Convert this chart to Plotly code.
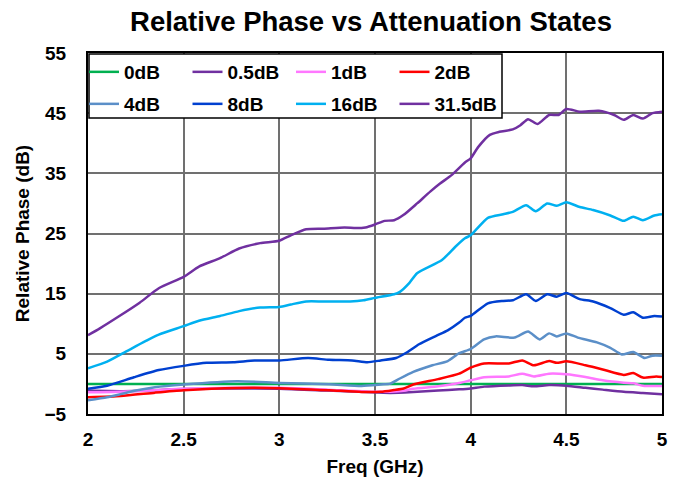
import plotly.graph_objects as go

# ---------------- data ----------------
f_0dB = [2.0, 2.5, 3.0, 3.5, 4.0, 4.5, 5.0]
v_0dB = [0, 0, 0, 0, 0, 0, 0]

f_05dB = [2.0, 2.17, 2.35, 2.5, 2.75, 3.0, 3.25, 3.45, 3.58, 3.7, 3.83, 3.94, 4.0,
          4.07, 4.2, 4.27, 4.33, 4.41, 4.5, 4.6, 4.69, 4.8, 4.9, 5.0]
v_05dB = [-1.1, -1.2, -1.05, -0.85, -0.75, -0.8, -1.1, -1.35, -1.5, -1.35, -1.1, -0.9, -0.75,
          -0.45, -0.25, -0.2, -0.4, -0.2, -0.3, -0.65, -0.95, -1.3, -1.5, -1.7]

f_1dB = [2.0, 2.17, 2.35, 2.5, 2.75, 3.0, 3.25, 3.45, 3.58, 3.65, 3.7, 3.83, 3.94, 4.0,
         4.07, 4.2, 4.27, 4.33, 4.41, 4.5, 4.6, 4.69, 4.8, 4.85, 4.9, 5.0]
v_1dB = [-1.4, -1.3, -1.05, -0.8, -0.65, -0.65, -0.95, -1.25, -1.3, -1.15, -0.8, -0.4, 0.15, 0.6,
         1.1, 1.25, 1.7, 1.25, 1.7, 1.6, 1.15, 0.6, 0.2, 0.1, -0.3, -0.35]

f_2dB = [2.0, 2.17, 2.35, 2.5, 2.78, 3.0, 3.26, 3.43, 3.53, 3.6, 3.65, 3.7, 3.83, 3.94, 4.0,
         4.07, 4.2, 4.27, 4.33, 4.41, 4.45, 4.5, 4.6, 4.69, 4.8, 4.85, 4.9, 4.97, 5.0]
v_2dB = [-2.2, -2.0, -1.45, -1.05, -0.67, -0.7, -1.05, -1.33, -1.3, -1.0, -0.75, -0.1, 0.8, 1.7, 2.7,
         3.4, 3.4, 3.9, 3.1, 3.8, 3.5, 3.75, 3.1, 2.4, 1.5, 1.8, 1.05, 1.25, 1.15]

f_4dB = [2.0, 2.1, 2.17, 2.25, 2.35, 2.5, 2.78, 3.0, 3.26, 3.43, 3.53, 3.58, 3.63, 3.7, 3.8,
         3.88, 3.94, 4.0, 4.07, 4.13, 4.23, 4.3, 4.36, 4.41, 4.45, 4.5, 4.56, 4.66, 4.73,
         4.79, 4.85, 4.91, 4.95, 5.0]
v_4dB = [-2.7, -2.2, -1.7, -1.1, -0.55, -0.1, 0.45, 0.17, -0.05, -0.33, -0.1, 0.05, 0.9, 2.0, 3.1,
         3.8, 5.1, 5.8, 7.4, 7.9, 7.7, 8.7, 7.4, 8.4, 7.9, 8.4, 7.7, 6.9, 6.0,
         4.9, 5.3, 4.3, 4.7, 4.7]

f_8dB = [2.0, 2.1, 2.24, 2.37, 2.5, 2.62, 2.76, 2.87, 3.0, 3.15, 3.26, 3.38, 3.46, 3.53, 3.61,
         3.67, 3.73, 3.82, 3.88, 3.94, 3.97, 4.0, 4.09, 4.17, 4.22, 4.29, 4.34, 4.4, 4.45,
         4.5, 4.57, 4.64, 4.73, 4.8, 4.85, 4.9, 4.96, 5.0]
v_8dB = [-0.8, -0.3, 1.1, 2.3, 3.0, 3.5, 3.6, 3.9, 3.9, 4.3, 4.0, 3.9, 3.6, 3.9, 4.3,
         5.3, 6.6, 8.0, 8.9, 10.2, 11.0, 11.3, 13.4, 13.8, 13.9, 14.9, 13.8, 14.9, 14.5,
         15.1, 14.1, 13.7, 12.6, 11.5, 11.9, 11.0, 11.3, 11.2]

f_16dB = [2.0, 2.1, 2.2, 2.3, 2.37, 2.5, 2.58, 2.69, 2.79, 2.9, 3.0, 3.06, 3.14, 3.23, 3.37,
          3.44, 3.5, 3.6, 3.63, 3.68, 3.72, 3.85, 3.92, 3.97, 4.0, 4.09, 4.17, 4.22, 4.29,
          4.34, 4.4, 4.45, 4.5, 4.57, 4.64, 4.73, 4.8, 4.85, 4.9, 4.96, 5.0]
v_16dB = [2.6, 3.7, 5.4, 7.1, 8.2, 9.6, 10.5, 11.3, 12.1, 12.7, 12.8, 13.2, 13.7, 13.7, 13.7,
          13.9, 14.3, 14.9, 15.3, 16.8, 18.4, 20.6, 22.8, 24.2, 24.7, 27.6, 28.2, 28.6, 29.7,
          28.7, 30.0, 29.6, 30.2, 29.4, 28.9, 28.0, 27.1, 27.8, 27.2, 28.0, 28.2]

f_315dB = [2.0, 2.06, 2.16, 2.27, 2.37, 2.5, 2.58, 2.69, 2.79, 2.9, 3.0, 3.06, 3.14, 3.23,
           3.34, 3.4, 3.45, 3.5, 3.55, 3.6, 3.65, 3.72, 3.79, 3.84, 3.9, 3.97, 4.0, 4.04,
           4.1, 4.15, 4.22, 4.26, 4.3, 4.35, 4.41, 4.46, 4.5, 4.57, 4.67, 4.75, 4.8, 4.85,
           4.9, 4.95, 5.0]
v_315dB = [8.1, 9.2, 11.2, 13.5, 15.9, 17.8, 19.5, 20.9, 22.5, 23.4, 23.8, 24.7, 25.7, 25.8,
           26.0, 25.9, 26.0, 26.5, 27.1, 27.2, 28.1, 30.0, 32.0, 33.3, 34.7, 36.8, 37.5, 39.4,
           41.4, 41.9, 42.3, 43.0, 44.0, 43.2, 44.7, 44.7, 45.7, 45.25, 45.4, 44.7, 43.9, 44.7,
           44.1, 45.0, 45.25]

series_names = ["0dB", "0.5dB", "1dB", "2dB", "4dB", "8dB", "16dB", "31.5dB"]
series_freq = [f_0dB, f_05dB, f_1dB, f_2dB, f_4dB, f_8dB, f_16dB, f_315dB]
series_vals = [v_0dB, v_05dB, v_1dB, v_2dB, v_4dB, v_8dB, v_16dB, v_315dB]
series_colors = ["#00B050", "#7030A0", "#FF77FF", "#FF0000",
                 "#5B8FC8", "#0040D0", "#00B0F0", "#7030A0"]

x_ticks = [2, 2.5, 3, 3.5, 4, 4.5, 5]
x_ticklabels = ["2", "2.5", "3", "3.5", "4", "4.5", "5"]
y_ticks = [-5, 5, 15, 25, 35, 45, 55]

# ---------------- figure ----------------
FONT = "Liberation Sans, Arial, sans-serif"
fig = go.Figure()
for i, (name, fx, vy, col) in enumerate(zip(series_names, series_freq, series_vals, series_colors)):
    fig.add_trace(go.Scatter(
        x=fx, y=vy, name=name, mode="lines",
        line=dict(color=col, width=2.5, shape="spline", smoothing=0.6),
        legend="legend" if i < 4 else "legend2",
    ))

legend_common = dict(
    orientation="h", xanchor="left", yanchor="middle",
    bgcolor="rgba(0,0,0,0)", borderwidth=0,
    font=dict(family=FONT, size=19, color="black", weight="bold"),
    entrywidthmode="pixels", entrywidth=62.5, itemwidth=30,
    tracegroupgap=0, indentation=-4,
)

fig.update_layout(
    width=682, height=483,
    margin=dict(l=88, r=20, t=53, b=69),
    paper_bgcolor="white", plot_bgcolor="white",
    title=dict(text="Relative Phase vs Attenuation States",
               font=dict(family=FONT, size=27.5, color="black", weight="bold"),
               x=0.493, xref="paper", xanchor="center",
               y=1 - 21 / 483, yref="container", yanchor="middle"),
    xaxis=dict(range=[2, 5], tickvals=x_ticks, ticktext=x_ticklabels,
               showgrid=True, gridcolor="#707070", gridwidth=1.5,
               showline=True, linecolor="black", linewidth=2, mirror=True,
               ticks="", ticklabelstandoff=7, zeroline=False, automargin=False,
               tickfont=dict(family=FONT, size=19, color="black", weight="bold"),
               title=dict(text="Freq (GHz)", standoff=11,
                          font=dict(family=FONT, size=19, color="black", weight="bold"))),
    yaxis=dict(range=[-5, 55], tickvals=y_ticks,
               showgrid=True, gridcolor="#707070", gridwidth=1.5,
               showline=True, linecolor="black", linewidth=2, mirror=True,
               ticks="", ticklabelstandoff=16, zeroline=False, automargin=False,
               tickfont=dict(family=FONT, size=19, color="black", weight="bold"),
               title=dict(text="Relative Phase (dB)", standoff=10,
                          font=dict(family=FONT, size=19, color="black", weight="bold"))),
    legend=dict(x=0, y=(414 - 72) / 361, **legend_common),
    legend2=dict(x=0, y=(414 - 104) / 361, **legend_common),
    shapes=[dict(type="rect", xref="paper", yref="paper",
                 x0=1 / 574, x1=(502 - 88) / 574, y0=(414 - 118) / 361, y1=(414 - 54) / 361,
                 fillcolor="white", line=dict(color="black", width=1.5), layer="above")],
)

fig.write_html("out.html")
